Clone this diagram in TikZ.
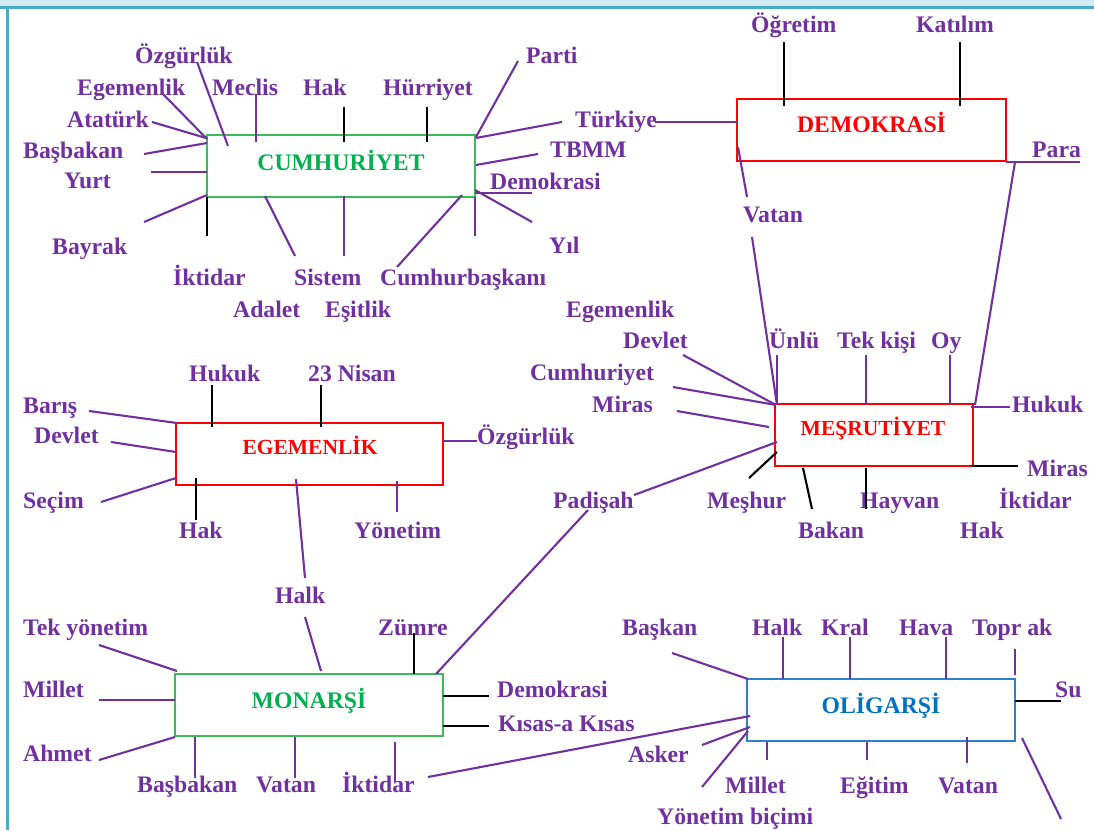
\documentclass[tikz,border=0pt]{standalone}
\usepackage{fontspec}
\setmainfont{Liberation Serif}
\definecolor{pur}{HTML}{7030A0}
\definecolor{grn}{HTML}{00B050}
\definecolor{grb}{HTML}{3DBB5A}
\definecolor{blu}{HTML}{0070C0}
\definecolor{blb}{HTML}{2E7FC6}
\definecolor{band}{HTML}{D2EAF1}
\definecolor{frm}{HTML}{4BACC6}
\newcommand\seg[4]{\coordinate (#2-a) at (#3); \coordinate (#2-b) at (#4); \draw[#1] (#2-a) -- (#2-b);}
\begin{document}
\begin{tikzpicture}[x=1pt,y=-1pt,
  lab/.style={anchor=base west,inner sep=0pt,text=pur,font=\fontsize{23.7}{26}\selectfont\bfseries},
  btext/.style={anchor=base,inner sep=0pt,font=\fontsize{23.7}{26}\selectfont\bfseries},
  bsmall/.style={anchor=base,inner sep=0pt,font=\fontsize{21.5}{24}\selectfont\bfseries},
  box/.style={draw=#1,line width=2.3pt,inner sep=0pt,fill=none},
  p/.style={draw=pur,line width=2.1pt},
  k/.style={draw=black,line width=2.1pt}]
\useasboundingbox (0,0) rectangle (1094,830);
% frame
\fill[band] (0,0) rectangle (1094,6);
\draw[frm,line width=3pt] (0,7.5) -- (1094,7.5);
\draw[frm,line width=3pt] (7.5,7.5) -- (7.5,830);

% boxes
\node[box=grb,minimum width=268pt,minimum height=62pt] (cum) at (341,166) {};
\node[btext,text=grn] (cumt) at (341,170) {CUMHURİYET};
\node[box=red,minimum width=269pt,minimum height=62pt] (dem) at (871.5,130) {};
\node[btext,text=red] (demt) at (871.5,132) {DEMOKRASİ};
\node[box=red,minimum width=267pt,minimum height=62pt] (ege) at (309.5,454) {};
\node[bsmall,text=red] (eget) at (310,454) {EGEMENLİK};
\node[box=red,minimum width=198pt,minimum height=62pt] (mes) at (874,435) {};
\node[bsmall,text=red] (mest) at (873,435) {MEŞRUTİYET};
\node[box=grb,minimum width=268pt,minimum height=62pt] (mon) at (309,705) {};
\node[btext,text=grn] (mont) at (309,708) {MONARŞİ};
\node[box=blb,minimum width=268pt,minimum height=62pt] (oli) at (881,710) {};
\node[btext,text=blu] (olit) at (881,713) {OLİGARŞİ};

% CUMHURIYET labels
\node[lab] (c-ozg) at (135,63) {Özgürlük};
\node[lab] (c-ege) at (77,95) {Egemenlik};
\node[lab] (c-ata) at (67,127) {Atatürk};
\node[lab] (c-bas) at (23,158) {Başbakan};
\node[lab] (c-yur) at (64,188) {Yurt};
\node[lab] (c-bay) at (52,254) {Bayrak};
\node[lab] (c-mec) at (212,95) {Meclis};
\node[lab] (c-hak) at (303,95) {Hak};
\node[lab] (c-hur) at (383,95) {Hürriyet};
\node[lab] (c-par) at (526,63) {Parti};
\node[lab] (c-tur) at (575,127) {Türkiye};
\node[lab] (c-tbm) at (550,157) {TBMM};
\node[lab] (c-dem) at (490,189) {Demokrasi};
\node[lab] (c-yil) at (549,253) {Yıl};
\node[lab] (c-cb) at (380,285) {Cumhurbaşkanı};
\node[lab] (c-ikt) at (173,285) {İktidar};
\node[lab] (c-sis) at (294,285) {Sistem};
\node[lab] (c-ada) at (233,317) {Adalet};
\node[lab] (c-esi) at (325,317) {Eşitlik};

% DEMOKRASI labels
\node[lab] (d-ogr) at (751,32) {Öğretim};
\node[lab] (d-kat) at (916,32) {Katılım};
\node[lab] (d-par) at (1032,157) {Para};
\node[lab] (d-vat) at (743,222) {Vatan};

% MESRUTIYET labels
\node[lab] (m-ege) at (566,317) {Egemenlik};
\node[lab] (m-dev) at (623,348) {Devlet};
\node[lab] (m-cum) at (530,380) {Cumhuriyet};
\node[lab] (m-mir) at (592,412) {Miras};
\node[lab] (m-unl) at (769,348) {Ünlü};
\node[lab] (m-tek) at (837,348) {Tek kişi};
\node[lab] (m-oy) at (931,348) {Oy};
\node[lab] (m-huk) at (1012,412) {Hukuk};
\node[lab] (m-mir2) at (1027,476) {Miras};
\node[lab] (m-ikt) at (999,508) {İktidar};
\node[lab] (m-hak) at (960,538) {Hak};
\node[lab] (m-hay) at (860,508) {Hayvan};
\node[lab] (m-bak) at (798,538) {Bakan};
\node[lab] (m-mes) at (707,508) {Meşhur};
\node[lab] (m-pad) at (553,508) {Padişah};

% EGEMENLIK labels
\node[lab] (e-huk) at (189,381) {Hukuk};
\node[lab] (e-23) at (308,381) {23 Nisan};
\node[lab] (e-bar) at (23,413) {Barış};
\node[lab] (e-dev) at (34,443) {Devlet};
\node[lab] (e-sec) at (23,508) {Seçim};
\node[lab] (e-hak) at (179,538) {Hak};
\node[lab] (e-yon) at (354,538) {Yönetim};
\node[lab] (e-ozg) at (477,444) {Özgürlük};
\node[lab] (e-hal) at (275,603) {Halk};

% MONARSI labels
\node[lab] (n-tek) at (23,635) {Tek yönetim};
\node[lab] (n-mil) at (23,697) {Millet};
\node[lab] (n-ahm) at (23,761) {Ahmet};
\node[lab] (n-bas) at (137,792) {Başbakan};
\node[lab] (n-vat) at (256,792) {Vatan};
\node[lab] (n-ikt) at (342,792) {İktidar};
\node[lab] (n-zum) at (378,635) {Zümre};
\node[lab] (n-dem) at (497,697) {Demokrasi};
\node[lab] (n-kis) at (498,731) {Kısas-a Kısas};

% OLIGARSI labels
\node[lab] (o-bas) at (622,635) {Başkan};
\node[lab] (o-hal) at (752,635) {Halk};
\node[lab] (o-kra) at (821,635) {Kral};
\node[lab] (o-hav) at (899,635) {Hava};
\node[lab] (o-top) at (972,635) {Topr ak};
\node[lab] (o-su) at (1055,697) {Su};
\node[lab] (o-ask) at (628,762) {Asker};
\node[lab] (o-mil) at (725,793) {Millet};
\node[lab] (o-egi) at (840,793) {Eğitim};
\node[lab] (o-vat) at (938,793) {Vatan};
\node[lab] (o-yon) at (657,824) {Yönetim biçimi};

% CUMHURIYET connectors
\seg{p}{c1}{197,62}{228,146}
\seg{p}{c2}{163,94}{207,139}
\seg{p}{c3}{152,122}{206,138}
\seg{p}{c4}{144,154}{207,143}
\seg{p}{c5}{151,172}{207,172}
\seg{p}{c6}{144,222}{207,195}
\seg{k}{c7}{207,197}{207,236}
\seg{p}{c8}{256,94}{256,142}
\seg{k}{c9}{344,107}{344,142}
\seg{k}{c10}{427,107}{427,142}
\seg{p}{c11}{518,61}{476,137}
\seg{p}{c12}{562,122}{476,138}
\seg{p}{c13}{538,154}{476,165}
\seg{p}{c14}{475,193}{532,193}
\seg{p}{c15}{475,190}{532,222}
\seg{p}{c16}{475,197}{475,236}
\seg{p}{c17}{462,195}{397,267}
\seg{p}{c18}{344,196}{344,256}
\seg{p}{c19}{265,196}{295,256}
\seg{p}{tk}{655,122}{737,122}

% DEMOKRASI connectors
\seg{k}{d1}{784,42}{784,106}
\seg{k}{d2}{960,42}{960,106}
\seg{p}{d3}{1006,162}{1080,162}
\seg{p}{d4}{1015,162}{975,405}
\seg{p}{d5}{738,147}{747,197}
\seg{p}{d6}{752,237}{777,405}

% MESRUTIYET connectors
\seg{p}{m1}{777,355}{777,405}
\seg{p}{m2}{683,355}{776,405}
\seg{p}{m3}{673,387}{776,405}
\seg{p}{m4}{677,411}{769,427}
\seg{p}{m5}{866,355}{866,405}
\seg{p}{m6}{950,355}{950,405}
\seg{p}{m7}{971,407}{1010,407}
\seg{k}{m8}{971,466}{1018,466}
\seg{p}{m9}{634,495}{777,442}
\seg{k}{m10}{749,478}{777,452}
\seg{k}{m11}{803,468}{812,509}
\seg{k}{m12}{866,468}{866,509}
\seg{p}{m13}{588,510}{436,674}

% EGEMENLIK connectors
\seg{k}{e1}{212,385}{212,427}
\seg{k}{e2}{321,385}{321,427}
\seg{p}{e3}{89,411}{177,423}
\seg{p}{e4}{111,442}{176,452}
\seg{p}{e5}{101,502}{176,478}
\seg{k}{e6}{196,478}{196,520}
\seg{p}{e7}{397,481}{397,512}
\seg{p}{e8}{443,441}{477,441}
\seg{p}{e9}{296,479}{305,578}
\seg{p}{e10}{305,617}{321,671}

% MONARSI connectors
\seg{p}{n1}{99,645}{177,671}
\seg{p}{n2}{99,700}{175,700}
\seg{p}{n3}{99,760}{175,737}
\seg{p}{n4}{195,737}{195,778}
\seg{p}{n5}{295,737}{295,778}
\seg{p}{n6}{395,742}{395,782}
\seg{k}{n7}{414,633}{414,674}
\seg{k}{n8}{443,696}{489,696}
\seg{k}{n9}{443,726}{489,726}
\seg{p}{n10}{428,777}{750,716}

% OLIGARSI connectors
\seg{p}{o1}{672,653}{748,679}
\seg{p}{o2}{783,637}{783,679}
\seg{p}{o3}{850,637}{850,679}
\seg{p}{o4}{946,637}{946,679}
\seg{p}{o5}{1015,649}{1015,675}
\seg{k}{o6}{1015,701}{1061,701}
\seg{p}{o7}{1022,738}{1061,819}
\seg{p}{o8}{767,742}{767,760}
\seg{p}{o9}{867,742}{867,760}
\seg{p}{o10}{967,737}{967,763}
\seg{p}{o11}{702,745}{750,727}
\seg{p}{o12}{702,787}{748,731}
\end{tikzpicture}
\end{document}
